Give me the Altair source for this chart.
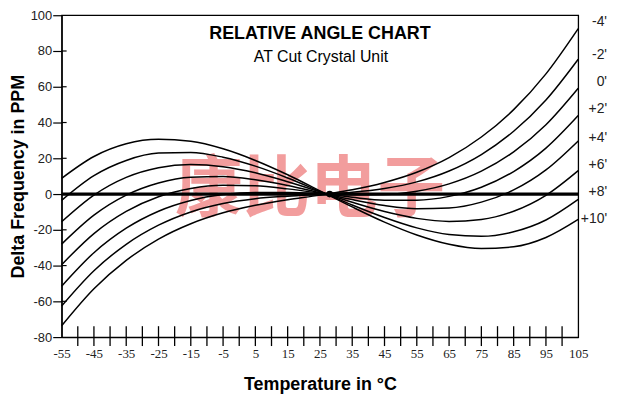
import altair as alt
import pandas as pd

# ---- data ----
temps = [-55, -45, -35, -25, -15, -5, 5, 15, 25, 27, 35, 45, 55, 65, 75, 85, 95, 105]

angle_names = ["-4'", "-2'", "0'", "+2'", "+4'", "+6'", "+8'", "+10'"]
ppm_m4 = [-73.7, -53.0, -37.1, -25.2, -16.6, -10.5, -6.3, -3.2, -0.6, 0, 2.4, 6.5, 12.2, 20.4, 31.9, 47.2, 67.2, 92.5]
ppm_m2 = [-62.6, -42.9, -28.1, -17.4, -10.0, -5.3, -2.6, -1.2, -0.2, 0, 1.0, 3.1, 6.8, 12.9, 22.1, 35.1, 52.6, 75.4]
ppm_0 = [-51.5, -32.8, -19.1, -9.6, -3.6, -0.3, 0.9, 0.9, 0.2, 0, -0.4, -0.2, 1.6, 5.7, 12.8, 23.6, 38.8, 59.2]
ppm_p2 = [-39.5, -22.1, -9.7, -1.5, 3.1, 4.9, 4.6, 2.9, 0.5, 0, -1.8, -3.4, -3.4, -1.3, 3.8, 12.6, 25.7, 43.9]
ppm_p4 = [-28.0, -11.8, -0.6, 6.2, 9.4, 9.8, 8.0, 4.8, 0.8, 0, -3.1, -6.4, -8.2, -7.8, -4.5, 2.3, 13.5, 29.7]
ppm_p6 = [-15.5, -0.6, 9.3, 14.7, 16.5, 15.3, 11.9, 6.9, 1.2, 0, -4.6, -9.8, -13.6, -15.3, -14.2, -9.6, -0.7, 13.1]
ppm_p8 = [-3.5, 10.3, 18.8, 22.9, 23.3, 20.6, 15.6, 9.0, 1.5, 0, -6.1, -13.1, -18.9, -22.6, -23.6, -21.1, -14.5, -3.0]
ppm_p10 = [8.8, 21.0, 28.1, 30.6, 29.5, 25.3, 18.8, 10.8, 1.8, 0, -7.2, -15.7, -22.9, -28.1, -30.5, -29.5, -24.3, -14.2]

# label positions on the right (ppm level of each label)
label_levels = [96, 78, 62.5, 47.5, 31.5, 16.5, 1, -14]

x_label_values = [-55, -45, -35, -25, -15, -5, 5, 15, 25, 35, 45, 55, 65, 75, 85, 95, 105]
x_tick_values = [-50, -45, -40, -35, -30, -25, -20, -15, -10, -5, 0, 5, 10, 15, 20, 25, 30,
                 35, 40, 45, 50, 55, 60, 65, 70, 75, 80, 85, 90, 95, 100]
y_label_values = [-80, -60, -40, -20, 0, 20, 40, 60, 80, 100]
y_inner_ticks = [80, 60, 40, 20, -20, -40, -60]

convergence_T = [28]
convergence_v = [0]

# ---- tables ----
series = [ppm_m4, ppm_m2, ppm_0, ppm_p2, ppm_p4, ppm_p6, ppm_p8, ppm_p10]
rows = []
for name, vals in zip(angle_names, series):
    for t, v in zip(temps, vals):
        rows.append({"T": t, "v": v, "angle": name})
curves_df = pd.DataFrame(rows)
labels_df = pd.DataFrame({"v": label_levels, "angle": angle_names})
xt_df = pd.DataFrame({"T": x_tick_values})
yt_df = pd.DataFrame({"v": y_inner_ticks})
zero_df = pd.DataFrame({"v": [0]})
dot_df = pd.DataFrame({"T": convergence_T, "v": convergence_v})
one = pd.DataFrame({"a": [0]})

W, H = 520, 324

xs = alt.Scale(domain=[-55, 105], nice=False, zero=False)
ys = alt.Scale(domain=[-80, 100], nice=False, zero=False)

x_axis = alt.Axis(values=x_label_values, title="Temperature in °C", ticks=False, tickSize=0,
                  labelExpr="'' + datum.value",
                  labelPadding=11, labelFont="Liberation Serif", labelFontSize=13,
                  labelColor="#222", labelFlush=False, labelOverlap=False,
                  domainColor="black", domainWidth=1.3, grid=False,
                  titleFont="Liberation Sans", titleFontSize=18, titleFontWeight="bold",
                  titleColor="black", titlePadding=15)
y_axis = alt.Axis(values=y_label_values, title="Delta Frequency in PPM", tickSize=9,
                  labelExpr="'' + datum.value",
                  tickColor="black", tickWidth=1.2, labelPadding=1,
                  labelFont="Liberation Sans", labelFontSize=13, labelColor="#222",
                  labelFlush=False, labelOverlap=False,
                  domainColor="black", domainWidth=1.3, grid=False,
                  titleFont="Liberation Sans", titleFontSize=18, titleFontWeight="bold",
                  titleColor="black", titlePadding=3)

X = alt.X("T:Q", scale=xs, axis=x_axis)
Y = alt.Y("v:Q", scale=ys, axis=y_axis)

watermark = alt.Chart(one).mark_text(
    text="康比电子", font="Noto Sans CJK SC", fontSize=68, fontWeight="bold",
    color="#f08585", opacity=0.8, align="center", baseline="middle"
).encode(x=alt.value(250), y=alt.value(177))

zero_line = alt.Chart(zero_df).mark_rule(color="black", strokeWidth=3.2).encode(y=Y)

curves = alt.Chart(curves_df).mark_line(
    color="black", strokeWidth=1.5, interpolate="monotone"
).encode(x=X, y=Y, detail="angle:N", order="T:Q")

dot = alt.Chart(dot_df).mark_point(
    filled=True, color="black", size=45, opacity=1
).encode(x=X, y=Y)

x_ticks = alt.Chart(xt_df).mark_rule(color="black", strokeWidth=1.3).encode(
    x=X, y=alt.value(H - 11), y2=alt.value(H + 9))

y_ticks = alt.Chart(yt_df).mark_rule(color="black", strokeWidth=1.2).encode(
    y=Y, x=alt.value(0), x2=alt.value(5))

right_labels = alt.Chart(labels_df).mark_text(
    align="right", baseline="middle", font="Liberation Sans", fontSize=14, color="#222"
).encode(y=Y, x=alt.value(549), text="angle:N")

title = alt.Chart(one).mark_text(
    text="RELATIVE ANGLE CHART", font="Liberation Sans", fontSize=18, fontWeight="bold",
    color="black", align="center", baseline="middle"
).encode(x=alt.value(260), y=alt.value(19))

subtitle = alt.Chart(one).mark_text(
    text="AT Cut Crystal Unit", font="Liberation Sans", fontSize=16,
    color="black", align="center", baseline="middle"
).encode(x=alt.value(261), y=alt.value(42))

chart = alt.layer(
    watermark, zero_line, curves, dot, x_ticks, y_ticks, right_labels, title, subtitle
).properties(
    width=W, height=H,
    autosize=alt.AutoSizeParams(type="none"),
    padding={"left": 54, "top": 6, "right": 35, "bottom": 58},
    background="white",
).configure_view(stroke="black", strokeWidth=1.3)

chart.save("out.html", embed_options={"renderer": "svg", "actions": False})
